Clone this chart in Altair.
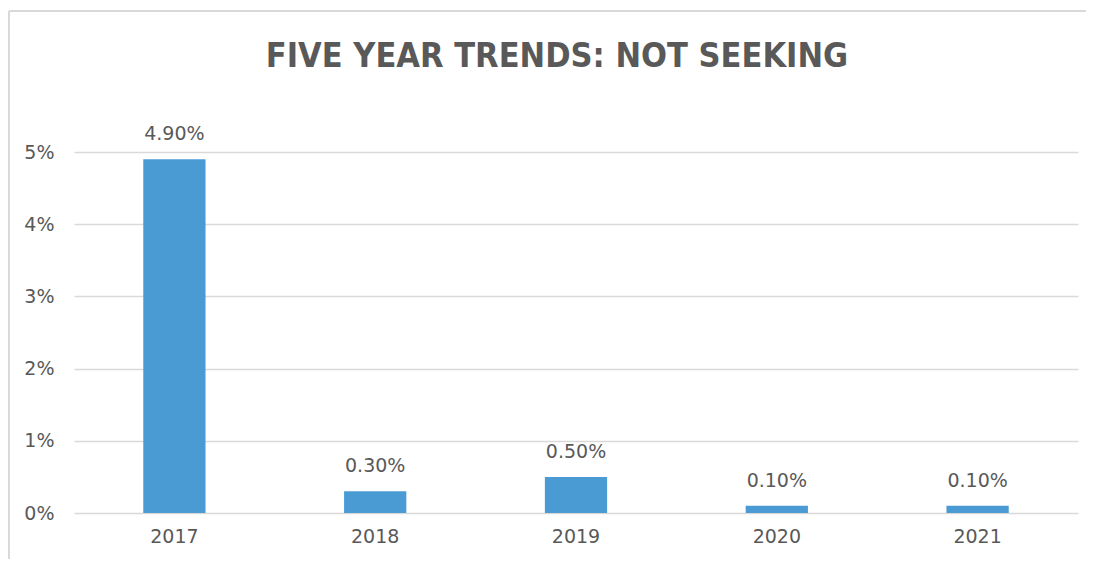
import altair as alt
import pandas as pd

years = ["2017", "2018", "2019", "2020", "2021"]
values = [0.049, 0.003, 0.005, 0.001, 0.001]
labels = ["4.90%", "0.30%", "0.50%", "0.10%", "0.10%"]
title_text = ["FIVE YEAR TRENDS: NOT SEEKING"]

df = pd.DataFrame({"year": years, "value": values, "label": labels})

GRAY = "#595959"
FONT = "DejaVu Sans"

base = alt.Chart(df).encode(
    x=alt.X("year:N", sort=years,
            scale=alt.Scale(paddingInner=0.69, paddingOuter=0.345),
            axis=alt.Axis(title=None, labelAngle=0, labelFontSize=19, labelColor=GRAY,
                          labelFont=FONT, domain=False, ticks=False, labelPadding=14)),
    y=alt.Y("value:Q", scale=alt.Scale(domain=[0, 0.05], nice=False),
            axis=alt.Axis(title=None, format=".0%", values=[0, 0.01, 0.02, 0.03, 0.04, 0.05],
                          labelFontSize=19, labelColor=GRAY, labelFont=FONT,
                          domain=False, ticks=False, labelPadding=20,
                          gridColor="#d9d9d9", gridWidth=1.5)),
)

bars = base.mark_bar(color="#4a9bd4")
text = base.mark_text(baseline="alphabetic", dy=-19, fontSize=19, color=GRAY, font=FONT).encode(
    text="label:N")

frame_top = alt.Chart(df).mark_rule(stroke="#d9d9d9", strokeWidth=2).encode(
    x=alt.value(-65), x2=alt.value(1030), y=alt.value(-141))
frame_left = alt.Chart(df).mark_rule(stroke="#d9d9d9", strokeWidth=2).encode(
    x=alt.value(-65), y=alt.value(-141), y2=alt.value(470))

title = alt.Chart(pd.DataFrame({"t": title_text})).mark_text(
    fontSize=34, font="DejaVu Sans Condensed", fontWeight="bold", color=GRAY,
    align="center", baseline="alphabetic").encode(
    text="t:N", x=alt.value(483), y=alt.value(-85))

chart = alt.layer(frame_top, frame_left, bars, text, title).properties(
    width=1004, height=361,
    padding={"left": 66, "top": 144, "right": 8, "bottom": 46},
    autosize=alt.AutoSizeParams(type="none"),
).configure_view(stroke=None)

chart.save("out.html", embed_options={"renderer": "svg", "actions": False})
